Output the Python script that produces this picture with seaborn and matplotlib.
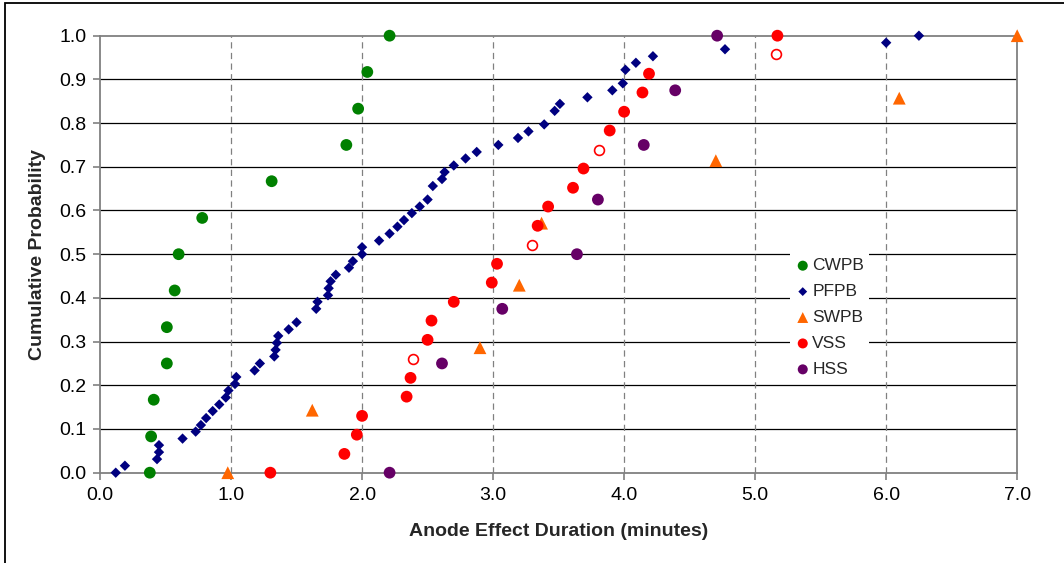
import numpy as np
import pandas as pd
import matplotlib
matplotlib.use('Agg')
import matplotlib.pyplot as plt
import seaborn as sns
from matplotlib.patches import Rectangle
from matplotlib.ticker import FormatStrFormatter

sns.set_theme(style='white')
plt.rcParams['font.family'] = ['Liberation Sans', 'DejaVu Sans']

# values (minutes, cumulative probability)
cwpb_x = [0.38, 0.39, 0.41, 0.51, 0.51, 0.57, 0.60, 0.78, 1.31, 1.88, 1.97, 2.04, 2.21]
cwpb_y = [0.0, 0.083, 0.167, 0.25, 0.333, 0.417, 0.5, 0.583, 0.667, 0.75, 0.833, 0.917, 1.0]

pfpb_x = [0.12, 0.19, 0.435, 0.45, 0.45, 0.63, 0.73, 0.77, 0.81, 0.86, 0.91, 0.96, 0.98,
          1.03, 1.04, 1.18, 1.22, 1.33, 1.34, 1.35, 1.36, 1.44, 1.50, 1.65, 1.66, 1.74,
          1.745, 1.76, 1.80, 1.90, 1.93, 2.00, 2.00, 2.13, 2.21, 2.27, 2.32, 2.38, 2.44,
          2.50, 2.54, 2.61, 2.63, 2.70, 2.79, 2.875, 3.04, 3.19, 3.27, 3.39, 3.47, 3.51,
          3.72, 3.91, 3.99, 4.01, 4.09, 4.22, 4.77, 6.0, 6.25]
pfpb_y = [0.0, 0.016, 0.031, 0.047, 0.063, 0.078, 0.094, 0.109, 0.125, 0.141, 0.156, 0.172,
          0.188, 0.203, 0.219, 0.234, 0.25, 0.266, 0.281, 0.297, 0.313, 0.328, 0.344, 0.375,
          0.391, 0.406, 0.422, 0.438, 0.453, 0.469, 0.484, 0.5, 0.516, 0.531, 0.547, 0.563,
          0.578, 0.594, 0.609, 0.625, 0.656, 0.672, 0.688, 0.703, 0.719, 0.734, 0.75, 0.766,
          0.781, 0.797, 0.828, 0.844, 0.859, 0.875, 0.891, 0.922, 0.938, 0.953, 0.969, 0.984, 1.0]

swpb_x = [0.975, 1.62, 2.90, 3.20, 3.37, 4.70, 6.10, 7.0]
swpb_y = [0.0, 0.143, 0.286, 0.429, 0.571, 0.714, 0.857, 1.0]

vss_x = [1.30, 1.865, 1.96, 2.0, 2.34, 2.37, 2.39, 2.50, 2.53, 2.70, 2.99, 3.03,
         3.30, 3.34, 3.42, 3.61, 3.69, 3.81, 3.89, 4.0, 4.14, 4.19, 5.16, 5.17]
vss_y = [0.0, 0.043, 0.087, 0.13, 0.174, 0.217, 0.261, 0.304, 0.348, 0.391, 0.435, 0.478,
         0.522, 0.565, 0.609, 0.652, 0.696, 0.739, 0.783, 0.826, 0.870, 0.913, 0.957, 1.0]
vss_open = [False, False, False, False, False, False, True, False, False, False, False, False,
            True, False, False, False, False, True, False, False, False, False, True, False]

hss_x = [2.21, 2.61, 3.07, 3.64, 3.80, 4.15, 4.39, 4.71]
hss_y = [0.0, 0.25, 0.375, 0.5, 0.625, 0.75, 0.875, 1.0]

groups = ['CWPB', 'PFPB', 'SWPB', 'VSS', 'HSS']
colors = {'CWPB': '#008000', 'PFPB': '#000080', 'SWPB': '#FF6600', 'VSS': '#FF0000', 'HSS': '#660066'}
markers = {'CWPB': 'o', 'PFPB': 'D', 'SWPB': '^', 'VSS': 'o', 'HSS': 'o'}
sizes = {'CWPB': 72, 'PFPB': 28, 'SWPB': 85, 'VSS': 72, 'HSS': 72}

df = pd.concat([
    pd.DataFrame({'x': cwpb_x, 'y': cwpb_y, 'grp': 'CWPB', 'hollow': False}),
    pd.DataFrame({'x': pfpb_x, 'y': pfpb_y, 'grp': 'PFPB', 'hollow': False}),
    pd.DataFrame({'x': swpb_x, 'y': swpb_y, 'grp': 'SWPB', 'hollow': False}),
    pd.DataFrame({'x': vss_x, 'y': vss_y, 'grp': 'VSS', 'hollow': vss_open}),
    pd.DataFrame({'x': hss_x, 'y': hss_y, 'grp': 'HSS', 'hollow': False}),
], ignore_index=True)

fig = plt.figure(figsize=(10.64, 5.63), dpi=100)
ax = fig.add_axes([0.094, 0.1604, 0.862, 0.7762])

# grid first so markers sit on top
for v in np.arange(0.1, 1.0, 0.1):
    ax.axhline(v, color='black', lw=0.9, zorder=1)
for v in range(1, 7):
    ax.axvline(v, color='#808080', lw=0.9, ls=(0, (5, 3.5)), zorder=1)

for g in groups:
    sub = df[(df['grp'] == g) & (~df['hollow'])]
    sns.scatterplot(data=sub, x='x', y='y', ax=ax, color=colors[g], marker=markers[g],
                    s=sizes[g], edgecolor='none', linewidth=0, label=g, zorder=3, clip_on=False)

hol = df[df['hollow']]
sns.scatterplot(data=hol, x='x', y='y', ax=ax, facecolor='white', edgecolor='#FF0000',
                marker='o', s=50, linewidth=1.2, zorder=3, clip_on=False, legend=False)

ax.set_xlim(0, 7)
ax.set_ylim(0, 1)
ax.set_xticks(np.arange(0, 7.1, 1.0))
ax.set_yticks(np.arange(0, 1.01, 0.1))
ax.xaxis.set_major_formatter(FormatStrFormatter('%.1f'))
ax.yaxis.set_major_formatter(FormatStrFormatter('%.1f'))
ax.tick_params(axis='both', direction='out', length=5, width=1.2, color='#808080',
               labelsize=14, labelcolor='black', pad=5)
ax.tick_params(left=True, bottom=True)
for sp in ax.spines.values():
    sp.set_color('#808080')
    sp.set_linewidth(1.3)
    sp.set_visible(True)

ax.set_xlabel('Anode Effect Duration (minutes)', fontsize=14, fontweight='bold', labelpad=14)
ax.set_ylabel('Cumulative Probability', fontsize=14, fontweight='bold', labelpad=9)

leg = ax.legend(loc='upper left', bbox_to_anchor=(0.752, 0.503), frameon=True, fancybox=False,
                edgecolor='none', facecolor='white', framealpha=1, fontsize=12.5,
                handletextpad=0.1, handlelength=0.9, labelspacing=0.62, borderpad=0.3,
                borderaxespad=0, markerscale=0.85)
leg.set_zorder(5)

# outer chart border (left and top edges only visible)
fig.patches.append(Rectangle((4.5 / 1064, -0.1), 2, 0.1 + 1 - 3.0 / 563, transform=fig.transFigure,
                             fill=False, edgecolor='black', lw=1.3))

plt.savefig('out.png', dpi=100)
plt.close()
